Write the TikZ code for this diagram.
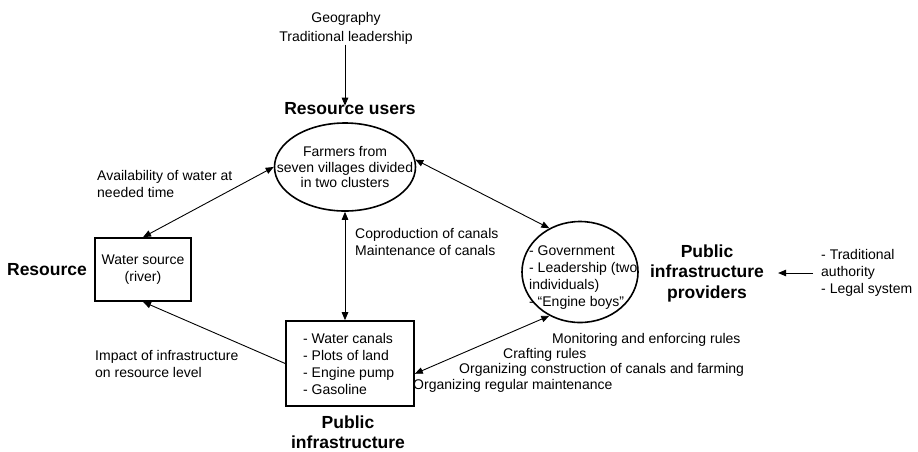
\documentclass[tikz,border=0pt]{standalone}
\usepackage{fontspec}
\setmainfont{Liberation Sans}
\usetikzlibrary{shapes.geometric, arrows.meta, calc}
\tikzstyle{txt} = [inner sep=0pt, align=left, font=\fontsize{14}{17}\selectfont]
\tikzstyle{lbl} = [inner sep=0pt, align=center, font=\fontsize{17.5}{20.5}\selectfont\bfseries]
\tikzstyle{boxed} = [draw, line width=1.6pt, inner sep=0pt]
\tikzstyle{oval} = [draw, ellipse, line width=1.6pt, inner sep=0pt]
\tikzstyle{arrow} = [line width=0.9pt, -{Triangle[length=8pt,width=6.5pt]}]
\tikzstyle{twoway} = [line width=0.9pt, {Triangle[length=8pt,width=6.5pt]}-{Triangle[length=8pt,width=6.5pt]}]

\begin{document}
\begin{tikzpicture}[x=1pt,y=-1pt]
   	\useasboundingbox (0,0) rectangle (918,451);
   	% the four parts
   	\node[oval,minimum width=141pt,minimum height=88pt](users) at (345,167) {};
   	\node[txt,align=center,font=\fontsize{14}{15.5}\selectfont] at (users) {Farmers from\\seven villages divided\\in two clusters};
   	\node[boxed,minimum width=96pt,minimum height=63pt](water) at (143,269.5) {};
   	\node[txt,align=center] at (water) {Water source\\(river)};
   	\node[boxed,minimum width=128pt,minimum height=85pt](infra) at (350,363.5) {};
   	\node[txt,anchor=west] at (303,363.5) {- Water canals\\- Plots of land\\- Engine pump\\- Gasoline};
   	\node[oval,minimum width=116pt,minimum height=101pt](gov) at (580,272) {};
   	\node[txt,anchor=west] at (529,277.5) {- Government\\- Leadership (two\\individuals)\\- ``Engine boys''};
   	% titles
   	\node[lbl](users_lbl) at (350,109) {Resource users};
   	\node[lbl](water_lbl) at (47,270) {Resource};
   	\node[lbl](infra_lbl) at (348,432) {Public\\infrastructure};
   	\node[lbl](gov_lbl) at (707,273) {Public\\infrastructure\\providers};
   	% outside texts
   	\node[txt,align=center,font=\fontsize{14}{19}\selectfont](geo) at (346,28.5) {Geography\\Traditional leadership};
   	\node[txt,anchor=west](ext) at (821,273) {- Traditional\\authority\\- Legal system};
   	% link texts
   	\node[txt,anchor=west](t_avail) at (97,183.5) {Availability of water at\\needed time};
   	\node[txt,anchor=west](t_impact) at (95,363.5) {Impact of infrastructure\\on resource level};
   	\node[txt,anchor=west](t_coprod) at (355,242) {Coproduction of canals\\Maintenance of canals};
   	\node[txt,anchor=west](t_mon) at (552,340) {Monitoring and enforcing rules};
   	\node[txt,anchor=west](t_craft) at (503,355) {Crafting rules};
   	\node[txt,anchor=west](t_orgc) at (459,369.5) {Organizing construction of canals and farming};
   	\node[txt,anchor=west](t_orgm) at (413,386) {Organizing regular maintenance};
    \path[twoway]
    (users.180) edge node {} (water.north)
    (users.south) edge node {} (users.south |- infra.north)
    (users.6) edge node {} (gov.125)
    (infra.-9) edge node {} (gov.235);
    \path[arrow]
    (infra.west) edge node {} (water.south)
    (geo.south -| users) edge node {} ([yshift=-3pt]users_lbl.north -| users)
    ([xshift=-8pt]ext.west) edge node {} ([xshift=14pt]gov_lbl.east);
\end{tikzpicture}
\end{document}
